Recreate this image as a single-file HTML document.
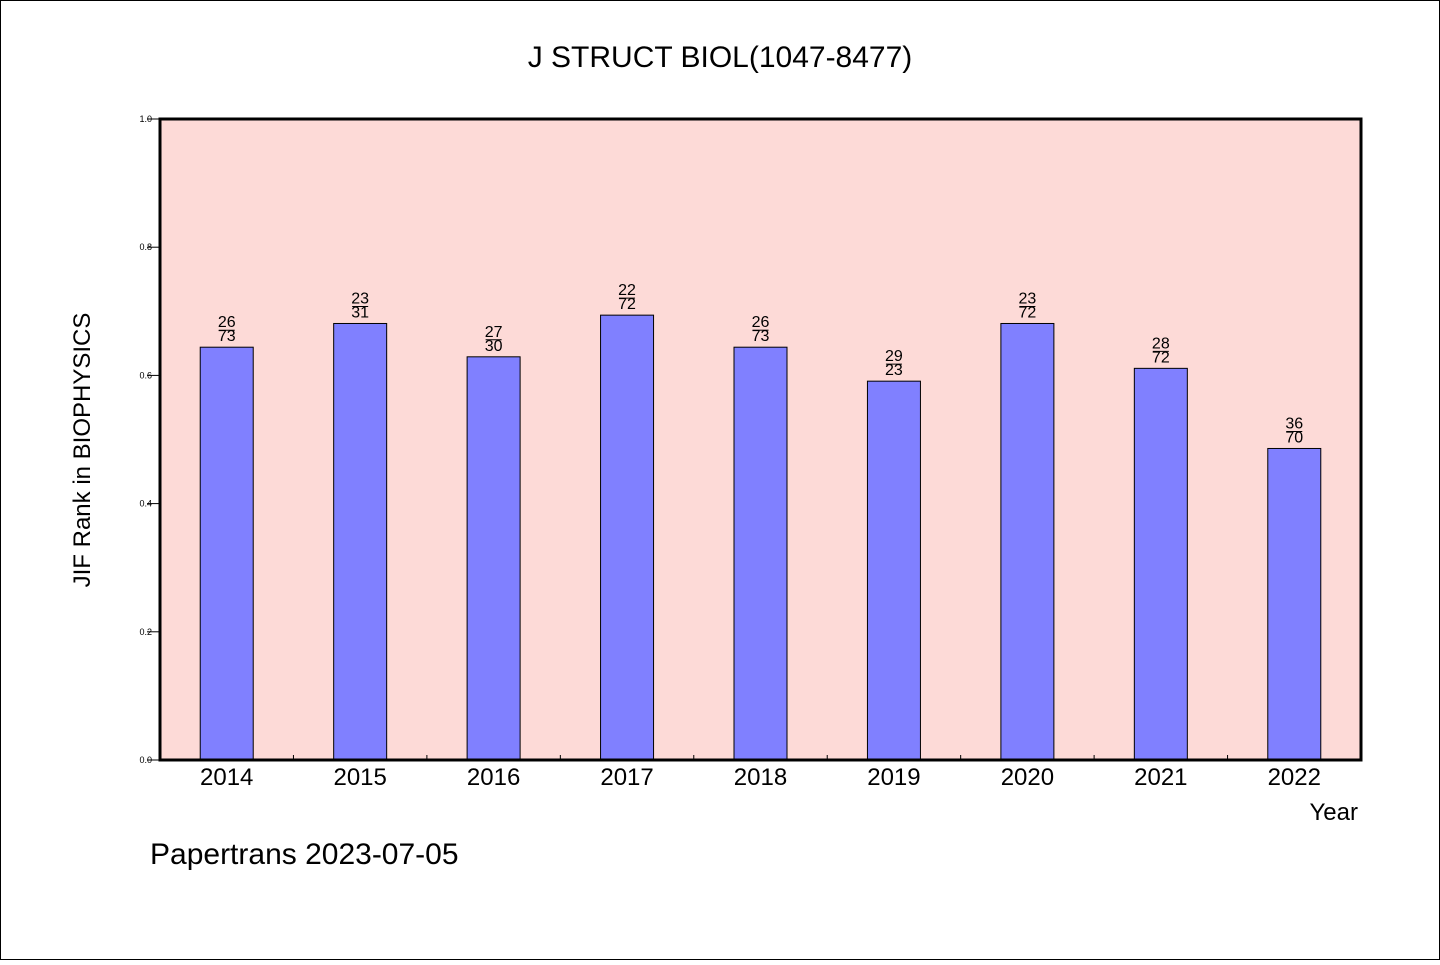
<!DOCTYPE html>
<html><head><meta charset="utf-8"><style>
body{margin:0;background:#fff}
svg text{font-family:"Liberation Sans","DejaVu Sans",sans-serif}
</style></head><body>
<svg width="1440" height="960">
<rect x="0.5" y="0.5" width="1439" height="959" fill="#fff" stroke="#000"/>
<text x="720" y="67" font-size="30" text-anchor="middle">J STRUCT BIOL(1047-8477)</text>
<rect x="160" y="119" width="1201" height="641" fill="#fddad7"/>
<g id="bars"></g>
<g id="yaxis"></g>
<g id="xaxis"></g>
<rect x="160" y="119" width="1201" height="641" fill="none" stroke="#000" stroke-width="3"/>
<text x="90" y="450" font-size="24" text-anchor="middle" transform="rotate(-90 90 450)">JIF Rank in BIOPHYSICS</text>
<text x="1358" y="820" font-size="24" text-anchor="end">Year</text>
<text x="150" y="864" font-size="30">Papertrans 2023-07-05</text>
</svg>
<script>
const years=["2014","2015","2016","2017","2018","2019","2020","2021","2022"];
const values=[0.644,0.681,0.629,0.694,0.644,0.591,0.681,0.611,0.486];
const numerators=["26","23","27","22","26","29","23","28","36"];
const denominators=["73","31","30","72","73","23","72","72","70"];
const yTicks=[0,0.2,0.4,0.6,0.8,1.0];
const NS="http://www.w3.org/2000/svg";
const X0=160,W=1201,Y0=760,H=641;
const band=W/years.length;
const xc=i=>X0+band*(i+0.5);
const y=v=>Y0-v*H;
function mk(tag,attrs,parent,txt){const e=document.createElementNS(NS,tag);for(const k in attrs)e.setAttribute(k,attrs[k]);if(txt!==undefined)e.textContent=txt;parent.appendChild(e);return e;}
const bars=document.getElementById('bars'),ya=document.getElementById('yaxis'),xa=document.getElementById('xaxis');
values.forEach((v,i)=>{
 const r=mk('rect',{x:xc(i)-26.5,y:y(v),width:53,height:Y0-y(v),fill:'#8080ff',stroke:'#000','stroke-width':1},bars);
 
 
 const t1=mk('text',{x:xc(i),y:y(v)-20,'font-size':16,'text-anchor':'middle'},bars,numerators[i]);
 
 
 const t2=mk('text',{x:xc(i),y:y(v)-6,'font-size':16,'text-anchor':'middle'},bars,denominators[i]);
 
 
 const l=mk('line',{x1:xc(i)-8,x2:xc(i)+8,y1:y(v)-17,y2:y(v)-17,stroke:'#000','stroke-width':1},bars);
 
 
 const xl=mk('text',{x:xc(i),y:785,'font-size':24,'text-anchor':'middle'},xa,years[i]);
 
 
 if(i>0){const tk=mk('line',{x1:X0+band*i,x2:X0+band*i,y1:Y0,y2:Y0-5,stroke:'#000'},xa);
 
 }
});
yTicks.forEach(t=>{
 const l=mk('line',{x1:147,x2:160,y1:y(t),y2:y(t),stroke:'#000'},ya);
 
 
 const tx=mk('text',{x:152,y:y(t)+3,'font-size':9,'text-anchor':'end'},ya,t.toFixed(1));
 
 
});
</script>
</body></html>
